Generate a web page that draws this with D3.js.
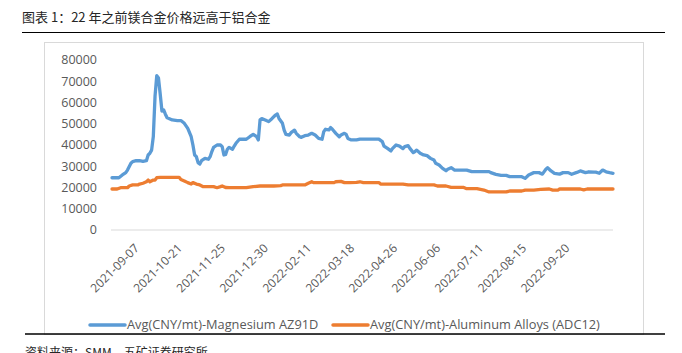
<!DOCTYPE html>
<html>
<head>
<meta charset="utf-8">
<script src="https://cdn.jsdelivr.net/npm/d3@7"></script>
<style>
	body { margin: 0; background: #fff; }
	svg { display: block; }
	.lbl { font-family: "Open Sans", "Liberation Sans", sans-serif; fill: #595959; }
	.cjk { font-family: "Noto Sans CJK SC", sans-serif; fill: #262626; }
</style>
</head>
<body>
<svg id="chart" width="682" height="353"></svg>
<script>
// trading-day index (0 = first day shown) and price
const MAGNESIUM = [
	[0, 24600], [4, 24600], [6, 25900], [8, 27000], [9, 28200], [11, 31400], [12, 32200],
	[14, 32600], [16, 32600], [18, 32300], [20, 32600], [21, 35300], [22, 36100], [23, 37600],
	[24, 44000], [25, 63000], [26, 72600], [27, 71500], [28, 64000], [29, 56000], [30, 56500],
	[31, 54500], [32, 52800], [33, 52500], [35, 51800], [38, 51500], [40, 51500], [42, 50200],
	[44, 47800], [46, 43900], [47, 40000], [48, 35300], [49, 34500], [50, 31700], [51, 31000],
	[52, 32600], [54, 33700], [56, 33300], [57, 34500], [58, 36900], [59, 38900], [61, 40000],
	[63, 40000], [64, 39200], [65, 35300], [66, 35600], [67, 38000], [68, 38900], [70, 38000],
	[71, 39500], [72, 40800], [74, 42700], [76, 42700], [78, 42700], [80, 43900], [82, 45000],
	[84, 43900], [85, 42400], [86, 51800], [87, 52400], [89, 51800], [91, 51000], [93, 52500],
	[95, 54100], [96, 54600], [97, 52500], [99, 50200], [100, 47000], [101, 45000], [103, 44700],
	[104, 45800], [106, 47000], [107, 45500], [109, 43900], [110, 43600], [112, 44400], [114, 44700],
	[116, 45500], [118, 44700], [120, 43100], [122, 42700], [123, 46300], [124, 47400], [126, 47100],
	[127, 48200], [128, 47400], [130, 45500], [132, 43900], [133, 44700], [135, 45500], [136, 45000],
	[137, 43100], [139, 42400], [142, 42400], [144, 42800], [148, 42800], [152, 42800], [155, 42800],
	[157, 41600], [158, 39500], [160, 38400], [162, 37200], [163, 38400], [165, 40000], [167, 39500],
	[169, 38300], [170, 39200], [172, 39700], [173, 38400], [175, 36400], [176, 36900], [177, 37600],
	[179, 36100], [181, 35300], [183, 35000], [185, 33700], [187, 32900], [188, 31400], [190, 30600],
	[192, 29000], [194, 27900], [195, 28600], [197, 29300], [199, 28200], [202, 28200], [206, 28200],
	[209, 27450], [214, 27450], [219, 27450], [220, 27000], [223, 26200], [226, 25700], [229, 25700],
	[231, 25100], [235, 25100], [238, 25100], [240, 24300], [242, 25900], [245, 27000], [248, 27000],
	[250, 26300], [252, 28600], [253, 29300], [255, 27800], [257, 26700], [260, 26300], [262, 27000],
	[265, 27000], [267, 26200], [270, 27100], [272, 27800], [275, 27000], [277, 27400], [280, 27200],
	[281, 27200], [283, 26700], [285, 28200], [287, 27400], [289, 27000], [291, 26700]
];

const ALUMINUM = [
	[0, 19300], [3, 19300], [5, 19900], [9, 19900], [10, 20700], [12, 21200], [15, 21200],
	[16, 21600], [18, 22000], [20, 22700], [21, 23500], [22, 22700], [24, 23500], [25, 23500],
	[26, 24600], [28, 24800], [32, 24800], [36, 24800], [39, 24800], [40, 23800], [42, 23100],
	[44, 22300], [46, 21600], [47, 22300], [49, 21600], [51, 21200], [53, 20400], [55, 20400],
	[59, 20400], [61, 19900], [63, 20400], [64, 20700], [66, 20000], [68, 19900], [74, 19900],
	[78, 19900], [82, 20400], [86, 20700], [94, 20700], [98, 20900], [99, 21200], [105, 21200],
	[112, 21200], [114, 22000], [116, 22700], [117, 22300], [123, 22300], [129, 22300], [130, 22700],
	[133, 22900], [135, 22300], [138, 22300], [142, 22400], [144, 22700], [146, 22300], [155, 22300],
	[156, 21600], [161, 21600], [169, 21600], [172, 21200], [179, 21200], [187, 21200], [189, 20700],
	[194, 20700], [197, 20100], [204, 20100], [206, 19450], [212, 19450], [216, 18800], [219, 17900],
	[224, 17900], [229, 17900], [231, 18350], [238, 18350], [240, 18800], [245, 18800], [249, 19100],
	[254, 19300], [256, 18800], [259, 18800], [260, 19300], [268, 19300], [272, 19300], [274, 18900],
	[276, 19300], [291, 19300]
];

const LAST_INDEX = 291;
const TICK_DATES = ["2021-09-07", "2021-10-21", "2021-11-25", "2021-12-30", "2022-02-11", "2022-03-18",
	"2022-04-26", "2022-06-06", "2022-07-11", "2022-08-15", "2022-09-20"];
const TICK_INDEX = [15, 40, 65, 90, 115, 140, 165, 190, 215, 240, 265];
const Y_TICKS = [0, 10000, 20000, 30000, 40000, 50000, 60000, 70000, 80000];

const SERIES = [
	{ name: "Avg(CNY/mt)-Magnesium AZ91D", data: MAGNESIUM, color: "#5B9BD5" },
	{ name: "Avg(CNY/mt)-Aluminum Alloys (ADC12)", data: ALUMINUM, color: "#ED7D31" },
];

const svg = d3.select("#chart");

// title and page rules
svg.append("text")
	.attr("class", "cjk")
	.attr("x", 22)
	.attr("y", 22)
	.attr("font-size", 13)
	.text("图表 1：22 年之前镁合金价格远高于铝合金");

svg.append("line")
	.attr("x1", 22).attr("x2", 665)
	.attr("y1", 32.5).attr("y2", 32.5)
	.attr("stroke", "#000")
	.attr("stroke-width", 1.2);

svg.append("rect")
	.attr("x", 44.5).attr("y", 42.5)
	.attr("width", 599).attr("height", 292)
	.attr("fill", "none")
	.attr("stroke", "#d9d9d9");

svg.append("line")
	.attr("x1", 25).attr("x2", 665)
	.attr("y1", 334).attr("y2", 334)
	.attr("stroke", "#000")
	.attr("stroke-width", 1.5);

svg.append("text")
	.attr("class", "cjk")
	.attr("x", 25)
	.attr("y", 357)
	.attr("font-size", 12)
	.text("资料来源：SMM，五矿证券研究所");

// plot
const xScale = d3.scaleLinear()
	.domain([0, LAST_INDEX])
	.range([112, 613]);

const yScale = d3.scaleLinear()
	.domain([0, 80000])
	.range([230, 60]);

svg.append("line")
	.attr("x1", 111).attr("x2", 613)
	.attr("y1", yScale(0)).attr("y2", yScale(0))
	.attr("stroke", "#d9d9d9")
	.attr("stroke-width", 1);

svg.append("g")
	.selectAll("text")
	.data(Y_TICKS)
	.join("text")
	.attr("class", "lbl")
	.attr("x", 97)
	.attr("y", d => yScale(d))
	.attr("dy", "0.35em")
	.attr("text-anchor", "end")
	.attr("font-size", 12.5)
	.text(d => d);

svg.append("g")
	.selectAll("text")
	.data(TICK_DATES)
	.join("text")
	.attr("class", "lbl")
	.attr("text-anchor", "end")
	.attr("font-size", 12)
	.attr("transform", (d, i) => `translate(${xScale(TICK_INDEX[i]) + 2}, 249) rotate(-45)`)
	.text(d => d);

const line = d3.line()
	.x(d => xScale(d[0]))
	.y(d => yScale(d[1]));

for (const s of SERIES.slice().reverse()) {
	svg.append("path")
		.datum(s.data)
		.attr("fill", "none")
		.attr("stroke", s.color)
		.attr("stroke-width", 3.3)
		.attr("stroke-linejoin", "round")
		.attr("stroke-linecap", "round")
		.attr("d", line);
}

// legend
const legendX = [90, 333];
SERIES.forEach((s, i) => {
	const g = svg.append("g").attr("transform", `translate(${legendX[i]}, 325)`);
	g.append("line")
		.attr("x1", 0).attr("x2", 35)
		.attr("stroke", s.color)
		.attr("stroke-width", 3.5)
		.attr("stroke-linecap", "round");
	g.append("text")
		.attr("class", "lbl")
		.attr("x", 37)
		.attr("dy", "0.35em")
		.attr("font-size", 12.8)
		.text(s.name);
});
</script>
</body>
</html>
